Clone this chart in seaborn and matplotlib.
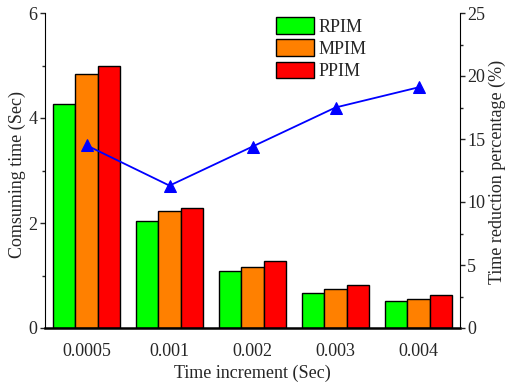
import matplotlib
matplotlib.use("Agg")
import matplotlib.pyplot as plt
import seaborn as sns
import pandas as pd
from matplotlib.ticker import MultipleLocator

categories = ["0.0005", "0.001", "0.002", "0.003", "0.004"]
methods = ["RPIM", "MPIM", "PPIM"]
rpim = [4.27, 2.03, 1.09, 0.66, 0.51]
mpim = [4.84, 2.23, 1.16, 0.74, 0.55]
ppim = [4.99, 2.29, 1.27, 0.81, 0.63]
reduction = [14.5, 11.3, 14.4, 17.5, 19.1]
colors = ["#00ff00", "#ff8000", "#ff0000"]

sns.set_style("white")
plt.rcParams["font.family"] = ["Liberation Serif", "DejaVu Serif"]

rows = []
for m, vals in zip(methods, [rpim, mpim, ppim]):
    for c, v in zip(categories, vals):
        rows.append({"cat": c, "method": m, "time": v})
df = pd.DataFrame(rows)

W, H = 507, 387
fig = plt.figure(figsize=(W / 100, H / 100), dpi=100)
ax = fig.add_axes([45 / W, 1 - 328 / H, 415 / W, 315 / H])
sns.barplot(data=df, x="cat", y="time", hue="method", order=categories,
            hue_order=methods, palette=colors, edgecolor="black",
            linewidth=1.0, width=0.8, ax=ax, saturation=1)
ax.set_xlim(-0.5, 4.5)
ax.set_ylim(0, 6)
ax.yaxis.set_major_locator(MultipleLocator(2))
ax.yaxis.set_minor_locator(MultipleLocator(1))
ax.set_xlabel("Time increment (Sec)", fontsize=13, labelpad=3)
ax.set_ylabel("Comsuming time (Sec)", fontsize=13)
ax.yaxis.set_label_coords((26 - 45) / 415, (328 - 174) / 315)
ax.tick_params(axis="y", which="major", direction="out", length=3.5, width=1,
               labelsize=13, left=True, pad=2)
ax.tick_params(axis="y", which="minor", direction="out", length=2.2, width=1, left=True)
ax.tick_params(axis="x", length=0, labelsize=13, pad=11)
ax.spines["top"].set_visible(False)
ax.spines["right"].set_visible(False)
ax.spines["left"].set_color("black")
ax.spines["bottom"].set_color("black")
ax.spines["bottom"].set_linewidth(1.8)

leg = ax.legend(loc="upper left", bbox_to_anchor=((277 - 45) / 415 - 0.025, 1.015),
                frameon=False, fontsize=13, handlelength=2.15, handleheight=1.05,
                labelspacing=0.2, handletextpad=0.25, borderaxespad=0.1)

ax2 = ax.twinx()
sns.lineplot(x=list(range(len(categories))), y=reduction, ax=ax2, color="#0000ff",
             marker="^", markersize=9, markeredgecolor="#0000ff", linewidth=1.3)
ax2.set_ylim(0, 25)
ax2.set_xlim(-0.5, 4.5)
ax2.yaxis.set_major_locator(MultipleLocator(5))
ax2.yaxis.set_minor_locator(MultipleLocator(2.5))
ax2.tick_params(axis="y", which="major", direction="out", length=3.5, width=1,
                labelsize=13, right=True, pad=1.5)
ax2.tick_params(axis="y", which="minor", direction="out", length=2.2, width=1, right=True)
ax2.set_ylabel("Time reduction percentage (%)", fontsize=13)
ax2.yaxis.set_label_coords((489 - 45) / 415, (328 - 172) / 315)
ax2.spines["top"].set_visible(False)
ax2.spines["left"].set_visible(False)
ax2.spines["bottom"].set_visible(False)
ax2.spines["right"].set_color("black")
ax2.grid(False)

fig.savefig("out.png", dpi=100)
